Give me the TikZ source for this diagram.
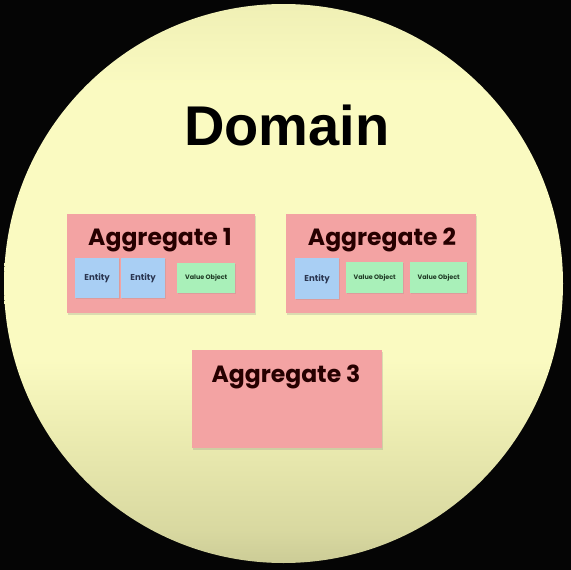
\documentclass[tikz,border=0pt]{standalone}
\usepackage{fontspec}
\setmainfont{Liberation Sans}
\newfontfamily\aggfont{Poppins}
\usetikzlibrary{shadows}
\definecolor{bgdark}{HTML}{050505}
\definecolor{aggpink}{HTML}{F3A3A3}
\definecolor{entblue}{HTML}{A9CFF4}
\definecolor{vogreen}{HTML}{A9F0B9}
\definecolor{enttext}{HTML}{2A3550}
\definecolor{votext}{HTML}{1F3A25}
\pgfdeclareverticalshading{domainshade}{100bp}{%
  rgb(0bp)=(0.80,0.80,0.59);
  rgb(25bp)=(0.80,0.80,0.59);
  rgb(28bp)=(0.85,0.85,0.63);
  rgb(36bp)=(0.92,0.92,0.69);
  rgb(43bp)=(0.98,0.98,0.755);
  rgb(68bp)=(0.98,0.98,0.755);
  rgb(75bp)=(0.94,0.94,0.71);
  rgb(100bp)=(0.94,0.94,0.71)}
\begin{document}
\begin{tikzpicture}[x=1pt,y=-1pt,
  aggbox/.style={fill=aggpink, draw=none, inner sep=0pt, anchor=north west,
    drop shadow={opacity=0.25, shadow xshift=1pt, shadow yshift=-1.5pt}},
  aggtitle/.style={font=\aggfont\bfseries\fontsize{23.5}{25}\selectfont, text=black!85!red, inner sep=0pt, anchor=base},
  entbox/.style={fill=entblue, draw=none, inner sep=0pt, anchor=north west,
    minimum width=44pt, minimum height=40pt, text=enttext,
    font=\aggfont\bfseries\fontsize{8.6}{9}\selectfont,
    drop shadow={opacity=0.2, shadow xshift=0.8pt, shadow yshift=-1pt}},
  vobox/.style={fill=vogreen, draw=none, inner sep=0pt, anchor=north west,
    minimum width=57pt, minimum height=31pt, text=votext,
    font=\aggfont\bfseries\fontsize{6.4}{7}\selectfont,
    drop shadow={opacity=0.2, shadow xshift=0.8pt, shadow yshift=-1pt}}
]
\useasboundingbox (0,0) rectangle (571,570);
\fill[bgdark] (0,0) rectangle (571,570);
\shade[shading=domainshade] (283.5,283.5) circle[radius=279.5];
\node[font=\bfseries\fontsize{56}{60}\selectfont, inner sep=0pt, anchor=base] (domain) at (287,145) {Domain};

% Aggregate 1
\node[aggbox, minimum width=188pt, minimum height=99pt] (agg1) at (67,214) {};
\node[aggtitle] (agg1t) at (160,245) {Aggregate 1};
\node[entbox] (e11) at (75,258) {Entity};
\node[entbox] (e12) at (121,258) {Entity};
\node[vobox, minimum width=58pt, minimum height=30pt] (v11) at (177,263) {Value Object};

% Aggregate 2
\node[aggbox, minimum width=190pt, minimum height=99pt] (agg2) at (286,214) {};
\node[aggtitle] (agg2t) at (382,245) {Aggregate 2};
\node[entbox, minimum height=41pt] (e21) at (295,258) {Entity};
\node[vobox] (v21) at (346,262) {Value Object};
\node[vobox] (v22) at (410,262) {Value Object};

% Aggregate 3
\node[aggbox, minimum width=190pt, minimum height=98pt] (agg3) at (192,350) {};
\node[aggtitle] (agg3t) at (286,382) {Aggregate 3};
\end{tikzpicture}
\end{document}
